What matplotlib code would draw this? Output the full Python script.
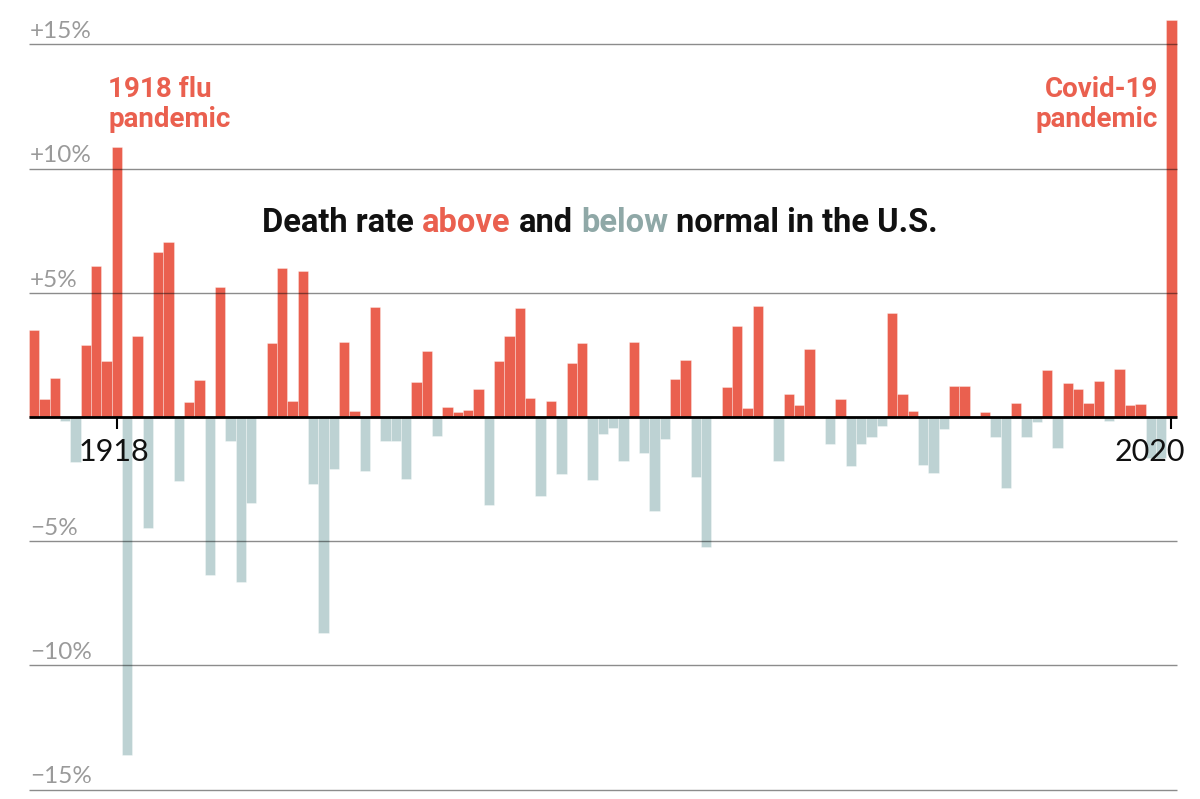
import matplotlib
matplotlib.use("Agg")
import matplotlib.pyplot as plt

# data: excess death rate vs. normal, per year (percent)
years = list(range(1910, 2021))
values = [
    3.50, 0.72, 1.57, -0.16, -1.80, 2.88, 6.07, 2.27, 10.87, -13.60,   # 1910-1919
    3.26, -4.45, 6.64, 7.05, -2.59, 0.59, 1.50, -6.38, 5.25, -0.97,    # 1920-1929
    -6.66, -3.46, 0.05, 2.99, 6.00, 0.64, 5.87, -2.71, -8.70, -2.09,   # 1930-1939
    3.04, 0.23, -2.17, 4.43, -0.95, -0.95, -2.48, 1.41, 2.64, -0.76,   # 1940-1949
    0.42, 0.20, 0.29, 1.11, -3.54, 2.25, 3.26, 4.38, 0.76, -3.20,      # 1950-1959
    0.64, -2.31, 2.18, 2.98, -2.55, -0.67, -0.43, -1.78, 3.02, -1.45,  # 1960-1969
    -3.80, -0.88, 1.54, 2.31, -2.40, -5.23, 0.00, 1.22, 3.67, 0.35,    # 1970-1979
    4.45, 0.00, -1.76, 0.94, 0.50, 2.75, 0.00, -1.09, 0.72, -1.97,     # 1980-1989
    -1.10, -0.79, -0.38, 4.18, 0.94, 0.25, -1.92, -2.27, -0.50, 1.23,  # 1990-1999
    1.26, 0.00, 0.20, -0.79, -2.84, 0.58, -0.82, -0.20, 1.89, -1.24,   # 2000-2009
    1.35, 1.11, 0.55, 1.46, -0.16, 1.92, 0.47, 0.51, -1.64, -1.64,     # 2010-2019
    16.00,                                                             # 2020
]
grid_values = [15, 10, 5, -5, -10, -15]
grid_labels = ["+15%", "+10%", "+5%", "\u22125%", "\u221210%", "\u221215%"]
tick_years = [1918, 2020]
notes = ["1918 flu\npandemic", "Covid-19\npandemic"]
title_parts = ["Death rate", "above", "and", "below", "normal in the U.S."]

RED = "#EA604F"
BLUE = "#BDD2D3"
BLUE_TXT = "#8FA8A7"
INK = "#111111"
LABEL_GRAY = "#9A9A9A"
SANS = ["Roboto", "DejaVu Sans"]
LIGHT = ["Lato", "Roboto", "DejaVu Sans"]

fig = plt.figure(figsize=(12, 7.99), dpi=100)
ax = fig.add_axes([0, 0, 1, 1])
ax.set_xlim(1906.71, 2022.77)
ax.set_ylim(-15.38, 16.79)
ax.axis("off")

colors = [RED if v >= 0 else BLUE for v in values]
ax.bar(years, values, width=1.0, color=colors, edgecolor=(1, 1, 1, 0.45),
       linewidth=0.5, zorder=2)

# gridlines on top of the bars
ax.hlines(grid_values, years[0] - 0.5, years[-1] + 0.5, color="black",
          alpha=0.45, linewidth=1.0, zorder=3)
for v, lab in zip(grid_values, grid_labels):
    ax.text(1909.6, v + 0.25, lab, ha="left", va="baseline", fontsize=17.5,
            color=LABEL_GRAY, family=LIGHT, zorder=4)

# zero line and year ticks
ax.hlines(0, years[0] - 0.5, years[-1] + 0.5, color="black", linewidth=2.0, zorder=4)
ax.vlines(tick_years, -0.5, 0, color="black", linewidth=1.5, zorder=4)
ax.text(tick_years[0] - 0.3, -1.77, str(tick_years[0]), ha="center", va="baseline",
        fontsize=22, color=INK, family=LIGHT, zorder=5)
ax.text(2021.3, -1.77, str(tick_years[1]), ha="right", va="baseline",
        fontsize=22, color=INK, family=LIGHT, zorder=5)

# pandemic notes
ax.text(1917.16, 13.73, notes[0], ha="left", va="top", fontsize=20,
        fontweight="bold", color=RED, family=SANS, linespacing=1.12, zorder=5)
ax.text(2018.7, 13.73, notes[1], ha="right", va="top", fontsize=20,
        fontweight="bold", color=RED, family=SANS, linespacing=1.12, zorder=5)

# multi-coloured title, centred
title_colors = [INK, RED, INK, BLUE_TXT, INK]
TSIZE = 23.5
pieces = [fig.text(0, 0.710, p, color=c, fontsize=TSIZE, fontweight="bold",
                   family=SANS, va="baseline") for p, c in zip(title_parts, title_colors)]
fig.canvas.draw()
r = fig.canvas.get_renderer()
probe = fig.text(0, 0, "x x", fontsize=TSIZE, fontweight="bold", family=SANS)
probe2 = fig.text(0, 0, "xx", fontsize=TSIZE, fontweight="bold", family=SANS)
gap = probe.get_window_extent(r).width - probe2.get_window_extent(r).width
probe.remove()
probe2.remove()
widths = [t.get_window_extent(r).width for t in pieces]
total = sum(widths) + gap * (len(pieces) - 1)
x = 600 - total / 2
for t, w in zip(pieces, widths):
    t.set_x(x / 1200)
    x += w + gap

fig.savefig("out.png", dpi=100)
